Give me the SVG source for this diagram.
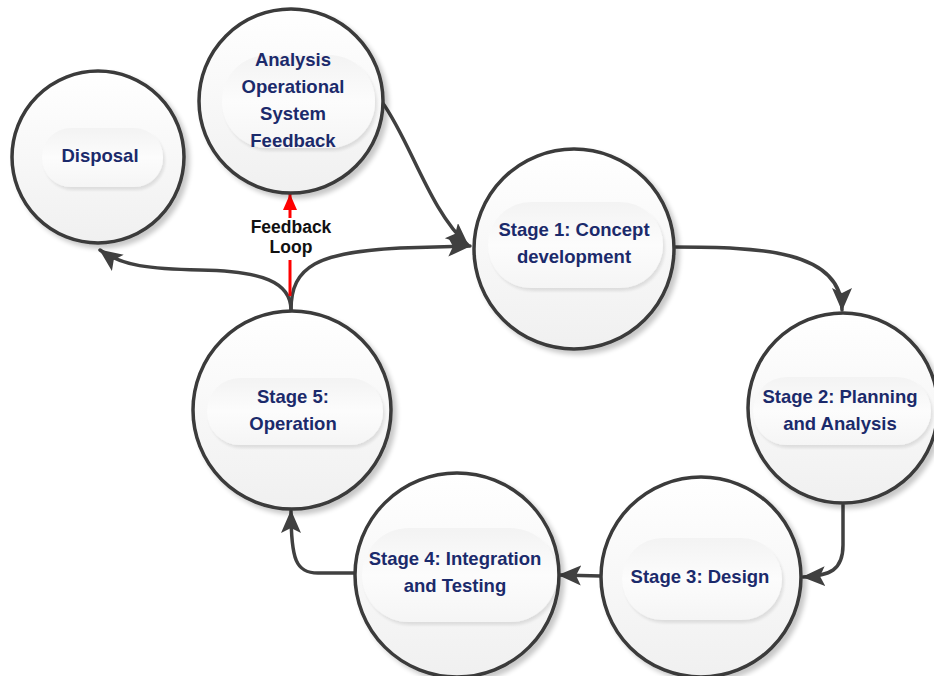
<svg xmlns="http://www.w3.org/2000/svg" width="934" height="676" viewBox="0 0 934 676">
<defs>
<linearGradient id="cg" x1="0" y1="0" x2="0" y2="1">
<stop offset="0" stop-color="#ffffff"/>
<stop offset="1" stop-color="#f0f0f0"/>
</linearGradient>
<linearGradient id="pg" x1="0" y1="0" x2="0" y2="1">
<stop offset="0" stop-color="#f3f3f3"/>
<stop offset="0.5" stop-color="#fcfcfc"/>
<stop offset="1" stop-color="#f5f5f5"/>
</linearGradient>
<filter id="sh" x="-20%" y="-20%" width="140%" height="140%">
<feGaussianBlur in="SourceAlpha" stdDeviation="2.5"/>
<feOffset dx="4" dy="4" result="b"/>
<feComponentTransfer><feFuncA type="linear" slope="0.22"/></feComponentTransfer>
<feMerge><feMergeNode/><feMergeNode in="SourceGraphic"/></feMerge>
</filter>
<filter id="psh" x="-10%" y="-20%" width="120%" height="150%">
<feGaussianBlur in="SourceAlpha" stdDeviation="1.5"/>
<feOffset dx="2" dy="3"/>
<feComponentTransfer><feFuncA type="linear" slope="0.1"/></feComponentTransfer>
<feMerge><feMergeNode/><feMergeNode in="SourceGraphic"/></feMerge>
</filter>
<marker id="ah" markerUnits="userSpaceOnUse" markerWidth="26" markerHeight="22" refX="22" refY="10" orient="auto">
<path d="M0,0 L23,10 L0,20 L5,10 z" fill="#404040"/>
</marker>
<marker id="rh" markerUnits="userSpaceOnUse" markerWidth="18" markerHeight="16" refX="16" refY="7" orient="auto">
<path d="M0,0 L16,7 L0,14 z" fill="#ff0000"/>
</marker>
<style>
.c{fill:url(#cg);stroke:#3a3a3a;stroke-width:3.5;filter:url(#sh)}
.p{fill:url(#pg);filter:url(#psh)}
.t{font-family:"Liberation Sans",Arial,sans-serif;font-weight:bold;font-size:18.5px;fill:#1b2a6b;text-anchor:middle}
.f{font-family:"Liberation Sans",Arial,sans-serif;font-weight:bold;font-size:17.5px;fill:#111111;text-anchor:middle}
.e{fill:none;stroke:#404040;stroke-width:3.5;stroke-linecap:round}
</style>
</defs>
<rect width="934" height="676" fill="#ffffff"/>

<g id="connectors">
<path class="e" d="M382,102 C410,140 430,212 468,245" marker-end="url(#ah)"/>
<path class="e" d="M291,310 C291,266 318,252 400,248 L470,246" marker-end="url(#ah)"/>
<path class="e" d="M291,310 C291,282 262,271 200,270 C150,269 122,266 100,250" marker-end="url(#ah)"/>
<path class="e" d="M673,247 C760,247 842,250 842,310" marker-end="url(#ah)"/>
<path class="e" d="M843,505 L843,545 C843,570 830,576 803,577" marker-end="url(#ah)"/>
<path class="e" d="M601,576 L559,575" marker-end="url(#ah)"/>
<path class="e" d="M355,573 L318,573 C296,573 291,560 291,511" marker-end="url(#ah)"/>
<path d="M290,296 L290,260" stroke="#ff0000" stroke-width="3" fill="none"/>
<path d="M290,218 L290,194" stroke="#ff0000" stroke-width="3" fill="none" marker-end="url(#rh)"/>
<text class="f" x="291" y="233">Feedback</text>
<text class="f" x="291" y="253">Loop</text>
</g>

<g id="analysis">
<circle class="c" cx="291" cy="101" r="92"/>
<rect class="p" x="222" y="55" width="153" height="93" rx="46"/>
<text class="t" x="293" y="66">Analysis</text>
<text class="t" x="293" y="93">Operational</text>
<text class="t" x="293" y="120">System</text>
<text class="t" x="293" y="147">Feedback</text>
</g>

<g id="disposal">
<circle class="c" cx="98" cy="157" r="86"/>
<rect class="p" x="42" y="128" width="121" height="59" rx="29"/>
<text class="t" x="100" y="162">Disposal</text>
</g>

<g id="stage1">
<circle class="c" cx="574" cy="249" r="100"/>
<rect class="p" x="488" y="202" width="175" height="86" rx="43"/>
<text class="t" x="574" y="236">Stage 1: Concept</text>
<text class="t" x="574" y="263">development</text>
</g>

<g id="stage2">
<circle class="c" cx="843" cy="408" r="95"/>
<rect class="p" x="753" y="377" width="178" height="68" rx="34"/>
<text class="t" x="840" y="403">Stage 2: Planning</text>
<text class="t" x="840" y="430">and Analysis</text>
</g>

<g id="stage3">
<circle class="c" cx="701" cy="577" r="100"/>
<rect class="p" x="622" y="538" width="160" height="82" rx="41"/>
<text class="t" x="700" y="583">Stage 3: Design</text>
</g>

<g id="stage4">
<circle class="c" cx="457" cy="575" r="102"/>
<rect class="p" x="362" y="528" width="195" height="94" rx="47"/>
<text class="t" x="455" y="565">Stage 4: Integration</text>
<text class="t" x="455" y="592">and Testing</text>
</g>

<g id="stage5">
<circle class="c" cx="292" cy="410" r="99"/>
<rect class="p" x="207" y="378" width="176" height="67" rx="33"/>
<text class="t" x="293" y="403">Stage 5:</text>
<text class="t" x="293" y="430">Operation</text>
</g>
</svg>
